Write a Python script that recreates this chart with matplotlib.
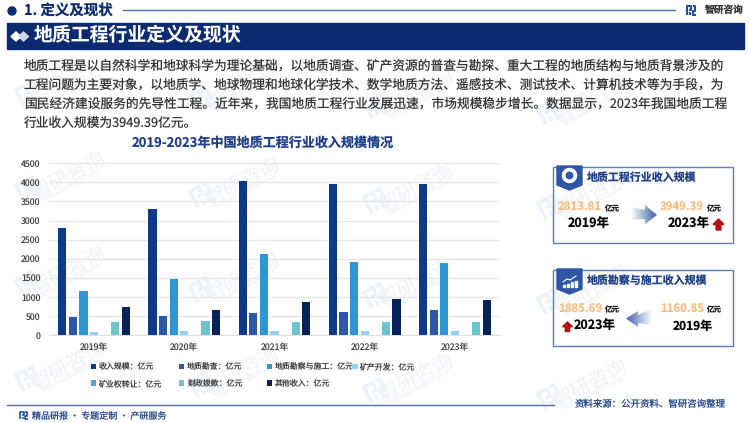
import numpy as np
import matplotlib
matplotlib.use("Agg")
import matplotlib.pyplot as plt
from matplotlib.patches import Polygon, Rectangle, Circle, Wedge
from matplotlib.colors import LinearSegmentedColormap
from matplotlib.transforms import Affine2D

plt.rcParams['font.family'] = ['Noto Sans CJK SC', 'DejaVu Sans']
plt.rcParams['text.hinting'] = 'no_hinting'
plt.rcParams['text.hinting_factor'] = 1

# ---- data ----
years = ['2019年', '2020年', '2021年', '2022年', '2023年']
income = [2813.81, 3300, 4040, 3950, 3949.39]
survey = [480, 510, 565, 600, 660]
survey_construction = [1160.85, 1460, 2120, 1910, 1885.69]
mineral_dev = [90, 115, 105, 115, 115]
mining_right = [3, 3, 3, 3, 3]
fiscal = [350, 355, 345, 345, 340]
other = [740, 660, 870, 940, 920]
series_names = ['收入规模：亿元', '地质勘查：亿元', '地质勘察与施工：亿元', '矿产开发：亿元',
                '矿业权转让：亿元', '财政拨款：亿元', '其他收入：亿元']
yticks = [0, 500, 1000, 1500, 2000, 2500, 3000, 3500, 4000, 4500]
body_lines = [
    '地质工程是以自然科学和地球科学为理论基础，以地质调查、矿产资源的普查与勘探、重大工程的地质结构与地质背景涉及的',
    '工程问题为主要对象，以地质学、地球物理和地球化学技术、数学地质方法、遥感技术、测试技术、计算机技术等为手段，为',
    '国民经济建设服务的先导性工程。近年来，我国地质工程行业发展迅速，市场规模稳步增长。数据显示，2023年我国地质工程',
    '行业收入规模为3949.39亿元。',
]

colors = ['#0E3A87', '#2D58A8', '#2F96D4', '#97D0F5', '#4FA8CC', '#6FC3CB', '#062256']
NAVY = '#0B2A6F'
BLUE = '#1F3F87'
ORANGE = '#F9BE82'
RED = '#B80F12'

W, H = 750, 423
fig = plt.figure(figsize=(7.5, 4.23), dpi=100, facecolor='white')
bg = fig.add_axes([0, 0, 1, 1], zorder=0)
bg.set_xlim(0, W)
bg.set_ylim(H, 0)
bg.axis('off')


def logo(cx, cy, s, color, rot=0, lw=1.5, z=1):
    tr = Affine2D().scale(s).rotate_deg(rot).translate(cx, cy) + bg.transData
    strokes = [[(-1, 1), (-1, -1), (0.1, -1), (0.1, -0.1), (-0.5, -0.1)],
               [(-0.25, 0.35), (-0.25, 1)],
               [(0.45, -1), (1, -1), (1, 0.2), (0.4, 0.2), (0.4, 1), (1.1, 1)]]
    for st in strokes:
        xs, ys = zip(*st)
        bg.plot(xs, ys, color=color, lw=lw, transform=tr, zorder=z, solid_capstyle='butt')


# watermarks
for i in range(0, 4):
    for j in range(-1, 3):
        x = 68 + 174 * i
        y = 175 + 6 * i + 95 * j
        bg.text(x, y, '智研咨询', fontsize=14.5, color='#F0F3F8', rotation=28,
                ha='center', va='center', zorder=0.5)
        bg.text(x + 4, y + 10, 'INTELLIGENCE RESEARCH GROUP', fontsize=3, color='#F0F3F8', rotation=28,
                ha='center', va='center', zorder=0.5)
        logo(x - 40, y + 14, 9, '#EEF3F9', rot=-28, lw=2.6, z=0.5)

# header
bg.add_patch(Circle((12, 11), 4, color=NAVY, zorder=2))
bg.text(24, 11, '1. 定义及现状', fontsize=10.4, fontweight='bold', color=NAVY, va='center', zorder=2)
bg.plot([123, 675], [10, 10], color='#5470A8', lw=1, zorder=2)
logo(691, 10.5, 4.2, '#1F4F9E', lw=1.5, z=2)
bg.text(705, 10, '智研咨询', fontsize=7, fontweight='bold', color='#333333', va='center', zorder=2)

# banner
bg.add_patch(Rectangle((7, 23), 737, 26, color=NAVY, zorder=2))
for dx, col in [(16, 'white'), (23.5, '#D0D6E4')]:
    bg.add_patch(Polygon([(dx - 5, 36.5), (dx, 32), (dx + 5, 36.5), (dx, 41)], color=col, zorder=3))
bg.text(33.5, 35.5, '地质工程行业定义及现状', fontsize=13.6, fontweight='bold', color='white',
        va='center', zorder=3)

# body
for k, line in enumerate(body_lines):
    bg.text(24, 66 + 19 * k, line, fontsize=9.18, color='#333333', va='center', zorder=2)

# chart title
bg.text(263, 143, '2019-2023年中国地质工程行业收入规模情况', fontsize=9.4, fontweight='bold',
        color=BLUE, ha='center', va='center', zorder=2)

# chart
ax = fig.add_axes([49 / W, (H - 335) / H, (500 - 49) / W, 171.7 / H], zorder=1)
ax.patch.set_alpha(0)
all_series = [income, survey, survey_construction, mineral_dev, mining_right, fiscal, other]
pos = np.arange(len(years))
step, bw = 0.1175, 0.093
handles = []
for n, (vals, c) in enumerate(zip(all_series, colors)):
    handles.append(ax.bar(pos + (n - 3) * step, vals, bw, color=c, label=series_names[n], zorder=3))
ax.set_xlim(-0.5, 4.5)
ax.set_ylim(0, 4500)
ax.set_yticks(yticks)
ax.set_xticks(pos)
ax.set_xticklabels(years)
ax.tick_params(axis='both', length=0, labelsize=6.3, labelcolor='#444444')
ax.tick_params(axis='x', pad=5.5)
ax.tick_params(axis='y', pad=6)
ax.grid(axis='y', color='#E8E8E8', lw=1, zorder=0)
ax.set_axisbelow(True)
for s in ['top', 'right', 'left']:
    ax.spines[s].set_visible(False)
ax.spines['bottom'].set_color('#E0E0E0')

# legend: four columns laid out like the reference
columns = [([0, 4], 90.5), ([1, 5], 178.5), ([2, 6], 266.5), ([3], 352)]
for idx, x in columns:
    lg = fig.legend([handles[i] for i in idx], [series_names[i] for i in idx],
                    loc='upper left', bbox_to_anchor=(x / W, 1 - 362.5 / H),
                    frameon=False, fontsize=5.7, handlelength=0.7, handleheight=0.7,
                    handletextpad=0.35, labelspacing=1.05, borderpad=0, borderaxespad=0,
                    labelcolor='#444444')
    lg.set_zorder(3)


def gradient_arrow(pts, ext, reverse=False):
    cmap = LinearSegmentedColormap.from_list('g', ['#FFFFFF', '#3C62A8'])
    g = np.linspace(0, 1, 128).reshape(1, -1)
    if reverse:
        g = g[:, ::-1]
    im = bg.imshow(g, extent=ext, cmap=cmap, aspect='auto', zorder=3)
    p = Polygon(pts, closed=True, transform=bg.transData, fc='none', ec='none')
    bg.add_patch(p)
    im.set_clip_path(p)


def up_arrow(cx, top, w, h):
    pts = [(cx, top), (cx + w / 2, top + h * 0.5), (cx + w * 0.22, top + h * 0.5),
           (cx + w * 0.22, top + h), (cx - w * 0.22, top + h), (cx - w * 0.22, top + h * 0.5),
           (cx - w / 2, top + h * 0.5)]
    bg.add_patch(Polygon(pts, color=RED, zorder=3))


def card(y0, y1, title, ribbon_h):
    bg.add_patch(Rectangle((553, y0), 179.5, y1 - y0, fc='none', ec='#5B7DBB', lw=1, zorder=2))
    bg.add_patch(Polygon([(557, y0 - 1), (582, y0 - 1), (582, y0 + ribbon_h - 5),
                          (569.5, y0 + ribbon_h), (557, y0 + ribbon_h - 5)],
                         color='#2F56A6', zorder=3))
    bg.text(587, y0 + 11, title, fontsize=7.9, fontweight='bold', color=BLUE, va='center', zorder=3)


def value(x, y, v):
    bg.text(x, y, f'{v:.2f}', fontsize=8.2, fontweight='bold', color=ORANGE, va='center', zorder=3)
    bg.text(x + 46, y + 1, '亿元', fontsize=5.4, fontweight='bold', color='#222222', va='center', zorder=3)


# card 1
card(167, 243, '地质工程行业收入规模', 23)
bg.add_patch(Wedge((569.5, 175.5), 7, 0, 360, width=2.4, color='white', zorder=4))
value(558, 207.5, income[0])
bg.text(568, 224, years[0], fontsize=9, fontweight='bold', color='black', va='center', zorder=3)
gradient_arrow([(631, 207), (645, 210), (645, 205), (657, 215), (645, 224), (645, 219), (631, 220)],
               (631, 657, 226, 204))
value(660, 207.5, income[4])
bg.text(668, 224, years[4], fontsize=9, fontweight='bold', color='black', va='center', zorder=3)
up_arrow(718.5, 219, 11, 11)

# card 2
card(270, 346, '地质勘察与施工收入规模', 24)
bar_icon = [(563.5, 288, 2), (567.5, 287, 3), (571.5, 285.5, 4.5), (575.5, 284, 6)]
bg.plot([563, 567, 570, 576], [282, 279, 280, 276], color='white', lw=0.8, zorder=4)
for bx, by, bh in bar_icon:
    bg.add_patch(Rectangle((bx - 1, 287 - bh), 2, bh, color='white', zorder=4))
value(558, 309, survey_construction[4])
up_arrow(567.5, 322, 10, 9.5)
bg.text(574, 326, years[4], fontsize=9, fontweight='bold', color='black', va='center', zorder=3)
gradient_arrow([(652, 309), (638, 315), (638, 311), (626, 318.5), (638, 327), (638, 323), (652, 325)],
               (626, 652, 329, 308), reverse=True)
value(660, 309, survey_construction[0])
bg.text(673, 326, years[0], fontsize=8.6, fontweight='bold', color='black', va='center', zorder=3)

# footer
bg.plot([7, 554], [405.5, 405.5], color='#5470A8', lw=1, zorder=2)
logo(23.5, 415.5, 3.8, '#1F4F9E', lw=1.2, z=2)
bg.text(32, 416, '精品研报 · 专题定制 · 产研服务', fontsize=6.5, color='#2A4A8A', va='center', zorder=2)
bg.text(575, 404.5, '资料来源：公开资料、智研咨询整理', fontsize=6.8, color='#2A4A8A', va='center', zorder=2)

bg.set_xlim(0, W)
bg.set_ylim(H, 0)
fig.savefig('out.png', dpi=100)
